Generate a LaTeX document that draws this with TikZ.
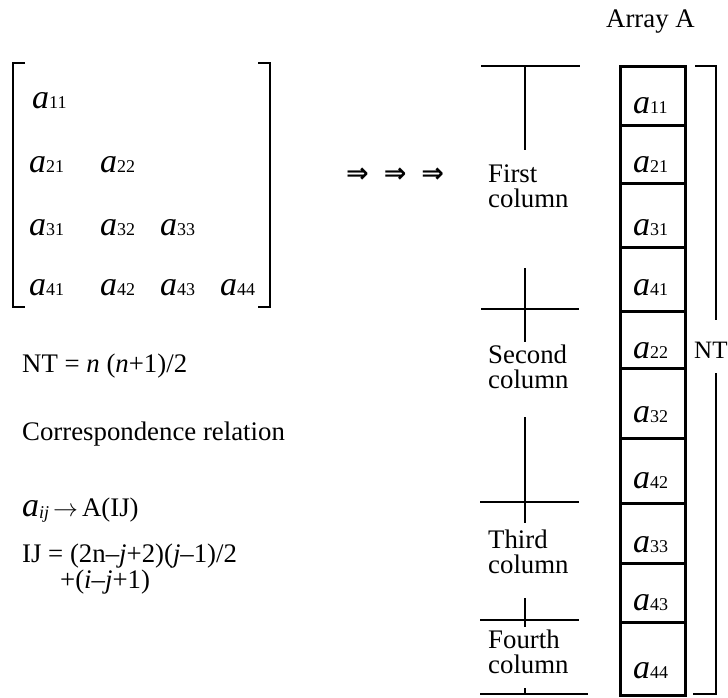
\documentclass[tikz,border=0pt]{standalone}
\usepackage{fontspec}
\setmainfont{Liberation Serif}
\newfontfamily\arrowfont{DejaVu Sans}
\newcommand\elem[1]{{\fontsize{34}{34}\selectfont\itshape a}{\fontsize{18}{18}\selectfont #1}}
\tikzset{
  txt/.style={anchor=base west, inner sep=0pt, font=\fontsize{26.8}{25}\selectfont},
  el/.style={anchor=base west, inner sep=0pt},
  rule/.style={line width=2.6pt},
  cell/.style={line width=3pt},
}
\begin{document}
\begin{tikzpicture}[x=1pt,y=-1pt]
\useasboundingbox (0,0) rectangle (728,697);
% matrix brackets
\draw[rule] (25,63) -- (13,63) -- (13,307) -- (25,307);
\draw[rule] (258,63) -- (270,63) -- (270,307) -- (258,307);
% matrix elements
\node[el] (m11) at (32,108) {\elem{11}};
\node[el] (m21) at (29,172) {\elem{21}};
\node[el] (m22) at (100,172) {\elem{22}};
\node[el] (m31) at (29,235) {\elem{31}};
\node[el] (m32) at (100,235) {\elem{32}};
\node[el] (m33) at (160,235) {\elem{33}};
\node[el] (m41) at (29,295) {\elem{41}};
\node[el] (m42) at (100,295) {\elem{42}};
\node[el] (m43) at (160,295) {\elem{43}};
\node[el] (m44) at (220,295) {\elem{44}};
% left texts
\node[txt] (nt) at (22,372) {NT = \textit{n} (\textit{n}+1)/2};
\node[txt] (corr) at (22,440) {Correspondence relation};
\node[txt] (map) at (22,516) {\elem{\raisebox{-2pt}{\itshape ij}}\hspace{4pt}$\rightarrow$\hspace{4pt}A(IJ)};
\node[txt] (ij1) at (22,562) {IJ = (2n–\textit{j}+2)(\textit{j}–1)/2};
\node[txt] (ij2) at (60,588) {+(\textit{i}–\textit{j}+1)};
% arrows
\node[anchor=base west, inner sep=0pt, font=\arrowfont\bfseries\fontsize{27}{27}\selectfont] (arr) at (346,182) {⇒\hspace{15pt}⇒\hspace{15pt}⇒};
% column ticks
\draw[rule] (481,66) -- (580,66);
\draw[rule] (525,66) -- (525,150);
\draw[rule] (525,268) -- (525,342);
\draw[rule] (481,309) -- (579,309);
\draw[rule] (525,417) -- (525,523);
\draw[rule] (480,502) -- (579,502);
\draw[rule] (525,598) -- (525,627);
\draw[rule] (480,620) -- (579,620);
\draw[rule] (525,688) -- (525,694);
\draw[rule] (480,694) -- (588,694);
% column labels
\node[txt] (c1a) at (488,182) {First};
\node[txt] (c1b) at (488,207) {column};
\node[txt] (c2a) at (488,363) {Second};
\node[txt] (c2b) at (488,388) {column};
\node[txt] (c3a) at (488,548) {Third};
\node[txt] (c3b) at (488,573) {column};
\node[txt] (c4a) at (488,648) {Fourth};
\node[txt] (c4b) at (488,673) {column};
% array title
\node[txt] (title) at (606,27) {Array A};
% array cells
\foreach \t/\b in {66/125,125/183,183/247,247/311,311/368,368/438,438/503,503/563,563/622,622/695}
  \draw[cell] (620,\t) rectangle (685,\b);
\node[el] (a1) at (633,113) {\elem{11}};
\node[el] (a2) at (633,172) {\elem{21}};
\node[el] (a3) at (633,235) {\elem{31}};
\node[el] (a4) at (633,295) {\elem{41}};
\node[el] (a5) at (633,358) {\elem{22}};
\node[el] (a6) at (633,422) {\elem{32}};
\node[el] (a7) at (633,488) {\elem{42}};
\node[el] (a8) at (633,552) {\elem{33}};
\node[el] (a9) at (633,610) {\elem{43}};
\node[el] (a10) at (633,678) {\elem{44}};
% NT bracket
\draw[rule] (695,66) -- (716,66) -- (716,320);
\draw[rule] (716,373) -- (716,694) -- (693,694);
\node[txt, font=\fontsize{25}{25}\selectfont] (ntl) at (694,358) {NT};
\end{tikzpicture}
\end{document}
